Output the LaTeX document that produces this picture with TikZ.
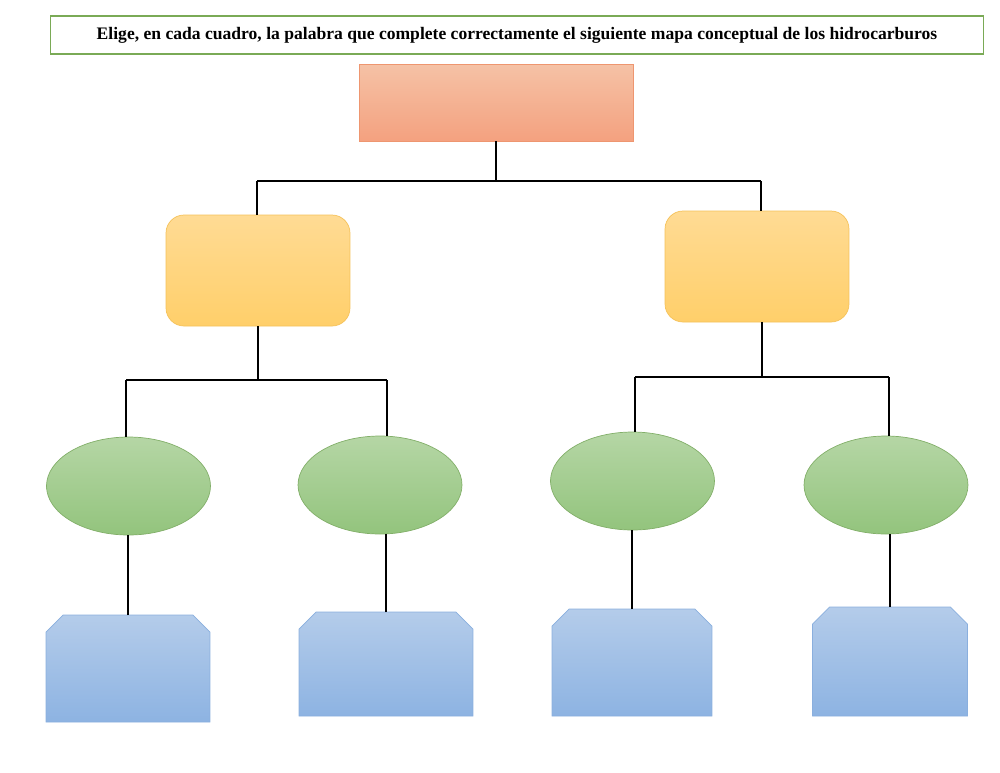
\documentclass[tikz,border=0pt]{standalone}
\usepackage{fontspec}
\setmainfont{Liberation Serif}
\usepackage{tikz}
\usetikzlibrary{shapes.geometric}
\definecolor{titleedge}{RGB}{122,170,86}
\definecolor{salmontop}{RGB}{245,194,166}
\definecolor{salmonbot}{RGB}{244,161,127}
\definecolor{salmonedge}{RGB}{238,150,112}
\definecolor{yellowtop}{RGB}{255,219,148}
\definecolor{yellowbot}{RGB}{255,207,106}
\definecolor{yellowedge}{RGB}{245,194,90}
\definecolor{greentop}{RGB}{181,214,165}
\definecolor{greenbot}{RGB}{147,196,125}
\definecolor{greenedge}{RGB}{130,175,105}
\definecolor{bluetop}{RGB}{180,204,234}
\definecolor{bluebot}{RGB}{141,179,226}
\definecolor{blueedge}{RGB}{138,175,222}
% blue box with the two upper corners cut off
\newcommand{\leafshape}[1]{\shadedraw[leaf shape] ([yshift=-0.34cm]#1.north west) -- ([xshift=0.34cm]#1.north west) -- ([xshift=-0.34cm]#1.north east) -- ([yshift=-0.34cm]#1.north east) -- (#1.south east) -- (#1.south west) -- cycle;}

\begin{document}
\begin{tikzpicture}[x=0.02cm,y=-0.02cm,line width=1pt,
    title node/.style={rectangle,draw=titleedge,line width=0.6pt,minimum width=18.68cm,minimum height=0.76cm,font=\bfseries\fontsize{10}{12}\selectfont},
    top node/.style={rectangle,draw=salmonedge,line width=0.4pt,top color=salmontop,bottom color=salmonbot,minimum width=5.48cm,minimum height=1.54cm},
    mid node/.style={rectangle,rounded corners=0.36cm,draw=yellowedge,line width=0.4pt,top color=yellowtop,bottom color=yellowbot,minimum width=3.68cm,minimum height=2.22cm},
    oval node/.style={ellipse,draw=greenedge,line width=0.4pt,top color=greentop,bottom color=greenbot,inner sep=0pt,minimum width=3.28cm,minimum height=1.96cm},
    leaf node/.style={rectangle,inner sep=0pt,outer sep=0pt},
    leaf shape/.style={draw=blueedge,line width=0.4pt,top color=bluetop,bottom color=bluebot}]
  \useasboundingbox (0,0) rectangle (1000,772);
  \begin{scope}
    \node[title node] (t) at (517,35) {Elige, en cada cuadro, la palabra que complete correctamente el siguiente mapa conceptual de los hidrocarburos};
    \node[top node] (top) at (496,102.5) {};
    \node[mid node] (yl) at (258,270.5) {};
    \node[mid node] (yr) at (757,266.5) {};
    \node[oval node] (e1) at (128.5,486) {};
    \node[oval node] (e2) at (380,485) {};
    \node[oval node] (e3) at (632.5,481) {};
    \node[oval node] (e4) at (886,485) {};
    \node[leaf node,minimum width=3.28cm,minimum height=2.14cm] (b1) at (128,668.5) {};
    \node[leaf node,minimum width=3.48cm,minimum height=2.08cm] (b2) at (386,664) {};
    \node[leaf node,minimum width=3.2cm,minimum height=2.14cm] (b3) at (632,662.5) {};
    \node[leaf node,minimum width=3.1cm,minimum height=2.18cm] (b4) at (890,661.5) {};
    \leafshape{b1}
    \leafshape{b2}
    \leafshape{b3}
    \leafshape{b4}
    % branch points
    \coordinate (h0l) at (257,181);
    \coordinate (h0r) at (761,181);
    \coordinate (h1l) at (126,380);
    \coordinate (h1r) at (387,380);
    \coordinate (h2l) at (635,377);
    \coordinate (h2m) at (762,377);
    \coordinate (h2r) at (889,377);
    \path[-] (top.south) edge (top.south |- h0l);
    \path[-] (h0l) edge (h0r);
    \path[-] (h0l) edge (h0l |- yl.north);
    \path[-] (h0r) edge (h0r |- yr.north);
    \path[-] (yl.south) edge (yl.south |- h1l);
    \path[-] (h1l) edge (h1r);
    \path[-] (h1l) edge (h1l |- e1.north);
    \path[-] (h1r) edge (h1r |- e2.north);
    \path[-] (h2m) edge (h2m |- yr.south);
    \path[-] (h2l) edge (h2r);
    \path[-] (h2l) edge (h2l |- e3.north);
    \path[-] (h2r) edge (h2r |- e4.north);
    \path[-] (b1.north) edge (b1.north |- e1.south);
    \path[-] (b2.north) edge (b2.north |- e2.south);
    \path[-] (b3.north) edge (b3.north |- e3.south);
    \path[-] (b4.north) edge (b4.north |- e4.south);
  \end{scope}
\end{tikzpicture}
\end{document}
